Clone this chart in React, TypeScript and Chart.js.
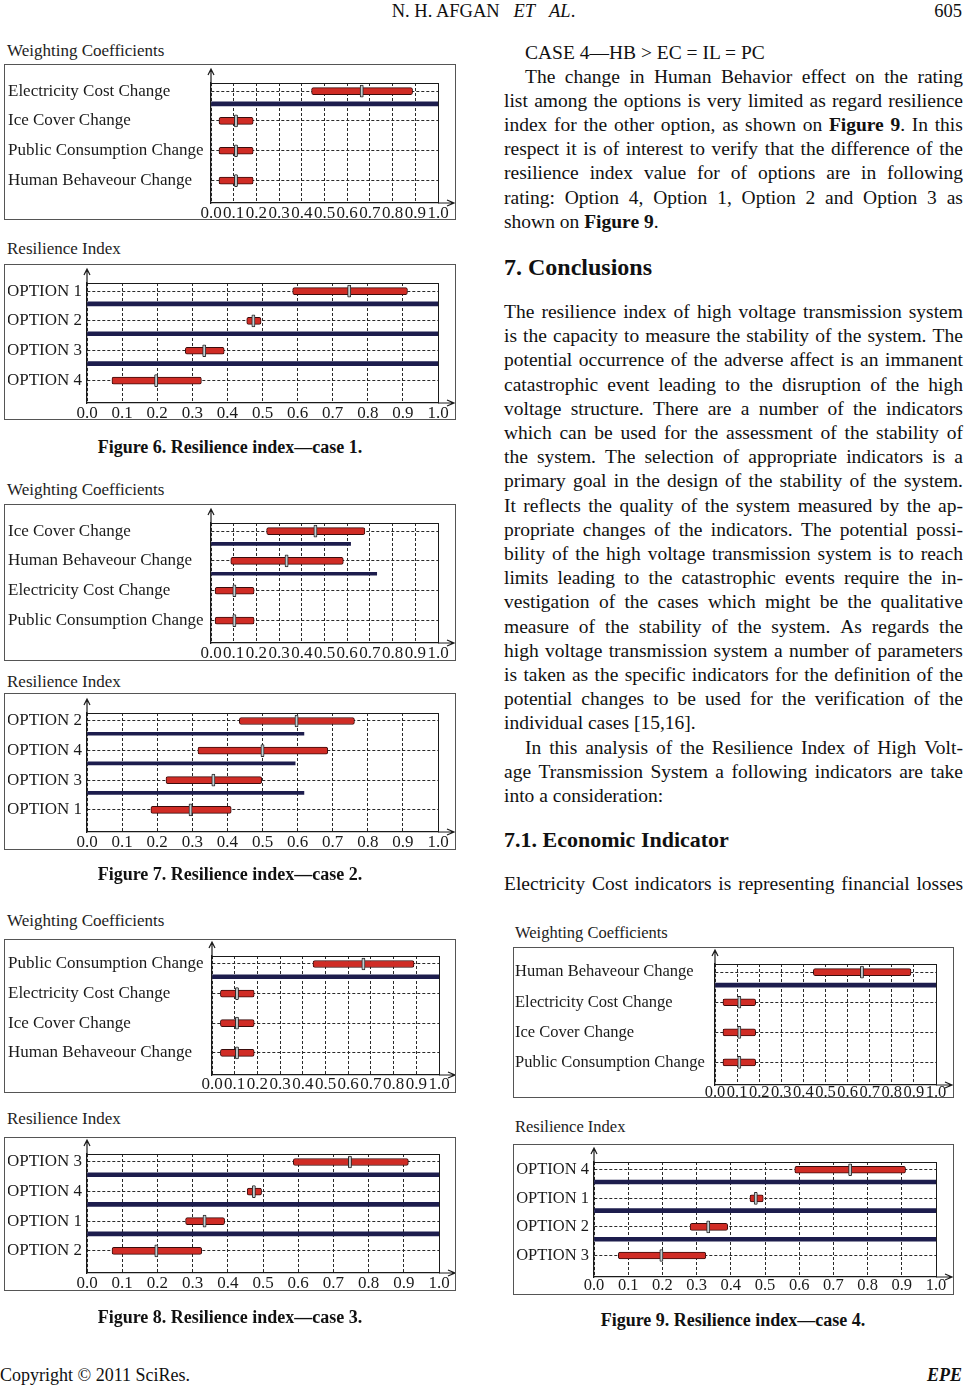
import React, { useEffect, useRef } from 'react';
import { Chart, registerables } from 'chart.js';

Chart.register(...registerables);

const FONT = '"Liberation Serif", "Times New Roman", Times, serif';

// ---------- shared axis ticks ----------
const X_TICK_VALUES = [0, 0.1, 0.2, 0.3, 0.4, 0.5, 0.6, 0.7, 0.8, 0.9, 1];
const X_TICK_LABELS = ['0.0', '0.1', '0.2', '0.3', '0.4', '0.5', '0.6', '0.7', '0.8', '0.9', '1.0'];

// ---------- Figure 6 (case 1) ----------
const F6W_CATS = ['Electricity Cost Change', 'Ice Cover Change', 'Public Consumption Change', 'Human Behaveour Change'];
const F6W_LOW = [0.443, 0.035, 0.035, 0.035];
const F6W_HIGH = [0.888, 0.186, 0.186, 0.186];
const F6W_MARK = [0.664, 0.11, 0.11, 0.11];
const F6W_SEP = [1.0, null, null];

const F6R_CATS = ['OPTION 1', 'OPTION 2', 'OPTION 3', 'OPTION 4'];
const F6R_LOW = [0.586, 0.455, 0.28, 0.071];
const F6R_HIGH = [0.913, 0.496, 0.391, 0.326];
const F6R_MARK = [0.747, 0.474, 0.334, 0.197];
const F6R_SEP = [1.0, 1.0, 1.0];

// ---------- Figure 7 (case 2) ----------
const F7W_CATS = ['Ice Cover Change', 'Human Behaveour Change', 'Electricity Cost Change', 'Public Consumption Change'];
const F7W_LOW = [0.245, 0.087, 0.018, 0.018];
const F7W_HIGH = [0.678, 0.583, 0.19, 0.19];
const F7W_MARK = [0.46, 0.333, 0.103, 0.103];
const F7W_SEP = [0.615, 0.73, null];

const F7R_CATS = ['OPTION 2', 'OPTION 4', 'OPTION 3', 'OPTION 1'];
const F7R_LOW = [0.434, 0.316, 0.225, 0.182];
const F7R_HIGH = [0.762, 0.686, 0.498, 0.411];
const F7R_MARK = [0.597, 0.5, 0.36, 0.295];
const F7R_SEP = [0.618, 0.593, 0.618];

// ---------- Figure 8 (case 3) ----------
const F8W_CATS = ['Public Consumption Change', 'Electricity Cost Change', 'Ice Cover Change', 'Human Behaveour Change'];
const F8W_LOW = [0.445, 0.037, 0.037, 0.037];
const F8W_HIGH = [0.89, 0.186, 0.186, 0.186];
const F8W_MARK = [0.667, 0.11, 0.11, 0.11];
const F8W_SEP = [1.0, null, null];

const F8R_CATS = ['OPTION 3', 'OPTION 4', 'OPTION 1', 'OPTION 2'];
const F8R_LOW = [0.586, 0.455, 0.28, 0.071];
const F8R_HIGH = [0.913, 0.496, 0.391, 0.326];
const F8R_MARK = [0.747, 0.474, 0.334, 0.197];
const F8R_SEP = [1.0, 1.0, 1.0];

// ---------- Figure 9 (case 4) ----------
const F9W_CATS = ['Human Behaveour Change', 'Electricity Cost Change', 'Ice Cover Change', 'Public Consumption Change'];
const F9W_LOW = [0.445, 0.036, 0.036, 0.036];
const F9W_HIGH = [0.887, 0.184, 0.184, 0.184];
const F9W_MARK = [0.665, 0.11, 0.11, 0.11];
const F9W_SEP = [1.0, null, null];

const F9R_CATS = ['OPTION 4', 'OPTION 1', 'OPTION 2', 'OPTION 3'];
const F9R_LOW = [0.587, 0.456, 0.281, 0.071];
const F9R_HIGH = [0.911, 0.495, 0.391, 0.327];
const F9R_MARK = [0.749, 0.473, 0.334, 0.197];
const F9R_SEP = [1.0, 1.0, 1.0];

type Panel = {
  title: string;
  titleX: number;
  titleY: number;
  cats: string[];
  low: number[];
  high: number[];
  mark: number[];
  sep: (number | null)[];
  box: { x: number; y: number; w: number; h: number };
  plot: { L: number; R: number; T: number; B: number };
  align: 'near' | 'far';
  labelPad: number;
  sepW: number;
  fs: number;
  tickPad: number;
};

const WC = 'Weighting Coefficients';
const RI = 'Resilience Index';

const PANELS: Panel[] = [
  { title: WC, titleX: 7, titleY: 51, cats: F6W_CATS, low: F6W_LOW, high: F6W_HIGH, mark: F6W_MARK, sep: F6W_SEP,
    box: { x: 4, y: 64, w: 452, h: 156 }, plot: { L: 211, R: 438, T: 83, B: 203 }, align: 'far', labelPad: 4, sepW: 4, fs: 17, tickPad: 0 },
  { title: RI, titleX: 7, titleY: 249, cats: F6R_CATS, low: F6R_LOW, high: F6R_HIGH, mark: F6R_MARK, sep: F6R_SEP,
    box: { x: 4, y: 264, w: 452, h: 156 }, plot: { L: 87, R: 438, T: 283, B: 403 }, align: 'near', labelPad: 4, sepW: 4, fs: 17, tickPad: 0 },
  { title: WC, titleX: 7, titleY: 490, cats: F7W_CATS, low: F7W_LOW, high: F7W_HIGH, mark: F7W_MARK, sep: F7W_SEP,
    box: { x: 4, y: 504, w: 452, h: 157 }, plot: { L: 211, R: 438, T: 523, B: 643 }, align: 'far', labelPad: 4, sepW: 3, fs: 17, tickPad: 0 },
  { title: RI, titleX: 7, titleY: 682, cats: F7R_CATS, low: F7R_LOW, high: F7R_HIGH, mark: F7R_MARK, sep: F7R_SEP,
    box: { x: 4, y: 693, w: 452, h: 157 }, plot: { L: 87, R: 438, T: 713, B: 832 }, align: 'near', labelPad: 4, sepW: 3, fs: 17, tickPad: 0 },
  { title: WC, titleX: 7, titleY: 921, cats: F8W_CATS, low: F8W_LOW, high: F8W_HIGH, mark: F8W_MARK, sep: F8W_SEP,
    box: { x: 4, y: 939, w: 452, h: 154 }, plot: { L: 212, R: 439, T: 956, B: 1075 }, align: 'far', labelPad: 4, sepW: 4, fs: 17, tickPad: -1 },
  { title: RI, titleX: 7, titleY: 1119, cats: F8R_CATS, low: F8R_LOW, high: F8R_HIGH, mark: F8R_MARK, sep: F8R_SEP,
    box: { x: 4, y: 1137, w: 452, h: 154 }, plot: { L: 87, R: 439, T: 1154, B: 1273 }, align: 'near', labelPad: 4, sepW: 4, fs: 17, tickPad: 0 },
  { title: WC, titleX: 515, titleY: 933, cats: F9W_CATS, low: F9W_LOW, high: F9W_HIGH, mark: F9W_MARK, sep: F9W_SEP,
    box: { x: 513, y: 947, w: 441, h: 151 }, plot: { L: 715, R: 936, T: 964, B: 1085 }, align: 'far', labelPad: 2, sepW: 4, fs: 16.5, tickPad: -2 },
  { title: RI, titleX: 515, titleY: 1127, cats: F9R_CATS, low: F9R_LOW, high: F9R_HIGH, mark: F9R_MARK, sep: F9R_SEP,
    box: { x: 513, y: 1144, w: 441, h: 151 }, plot: { L: 594, R: 936, T: 1162, B: 1277 }, align: 'near', labelPad: 2, sepW: 4, fs: 16.5, tickPad: -1 },
];

const EXTRA = 8;

const framePlugin = {
  id: 'frameArrows',
  beforeDatasetsDraw(chart: any) {
    const { ctx, chartArea: a } = chart;
    ctx.save();
    ctx.setLineDash([]);
    ctx.strokeStyle = '#1a1a1a';
    ctx.lineWidth = 1;
    ctx.beginPath();
    ctx.moveTo(a.left, a.top + 0.5);
    ctx.lineTo(a.right + 0.5, a.top + 0.5);
    ctx.lineTo(a.right + 0.5, a.bottom);
    ctx.stroke();
    // y axis arrow
    ctx.lineWidth = 1.2;
    ctx.beginPath();
    ctx.moveTo(a.left, a.top);
    ctx.lineTo(a.left, a.top - 13);
    ctx.moveTo(a.left - 3, a.top - 8);
    ctx.lineTo(a.left, a.top - 14);
    ctx.lineTo(a.left + 3, a.top - 8);
    ctx.stroke();
    // x axis arrow
    ctx.beginPath();
    ctx.moveTo(a.right, a.bottom);
    ctx.lineTo(a.right + 15, a.bottom);
    ctx.moveTo(a.right + 9, a.bottom - 3);
    ctx.lineTo(a.right + 16, a.bottom);
    ctx.lineTo(a.right + 9, a.bottom + 3);
    ctx.stroke();
    ctx.restore();
  },
};

function ChartPanel({ p }: { p: Panel }) {
  const ref = useRef<HTMLCanvasElement | null>(null);
  useEffect(() => {
    if (!ref.current) return;
    const n = p.cats.length;
    const plotW = p.plot.R - p.plot.L;
    const half = 1.6 / plotW;
    const row = (i: number) => n - i;
    const font = { family: FONT, size: p.fs };
    const chart = new Chart(ref.current, {
      type: 'bar',
      data: {
        datasets: [
          {
            label: 'mark',
            data: p.mark.map((m, i) => ({ y: row(i), x: [m - half, m + half] })),
            backgroundColor: '#c3cdd0',
            borderColor: '#2a2a2a',
            borderWidth: 1,
            borderSkipped: false,
            borderRadius: 1,
            barThickness: 12,
            grouped: false,
            order: 0,
          },
          {
            label: 'range',
            data: p.low.map((lo, i) => ({ y: row(i), x: [lo, p.high[i]] })),
            backgroundColor: '#d02c25',
            borderColor: '#3a0c0c',
            borderWidth: 1,
            borderSkipped: false,
            borderRadius: 2,
            barThickness: 7,
            grouped: false,
            order: 1,
          },
          {
            label: 'sep',
            data: p.sep
              .map((e, i) => (e == null ? null : { y: row(i) - 0.43, x: [0, e] }))
              .filter((d) => d !== null),
            backgroundColor: '#1d1d4d',
            borderWidth: 0,
            barThickness: p.sepW,
            grouped: false,
            order: 2,
          },
        ],
      } as any,
      options: {
        animation: false,
        responsive: true,
        maintainAspectRatio: false,
        indexAxis: 'y',
        events: [],
        layout: {
          padding: {
            left: p.labelPad,
            top: p.plot.T - p.box.y,
            right: p.box.x + p.box.w - p.plot.R,
            bottom: 0,
          },
        },
        plugins: { legend: { display: false }, tooltip: { enabled: false }, title: { display: false } },
        scales: {
          x: {
            type: 'linear',
            position: 'bottom',
            min: 0,
            max: 1,
            afterBuildTicks: (ax: any) => {
              ax.ticks = X_TICK_VALUES.map((v) => ({ value: v }));
            },
            afterFit: (ax: any) => {
              ax.height = p.box.y + p.box.h + EXTRA - p.plot.B;
              ax.paddingLeft = 0;
              ax.paddingRight = 0;
            },
            ticks: {
              autoSkip: false,
              maxRotation: 0,
              minRotation: 0,
              padding: p.tickPad,
              color: '#1a1a1a',
              font,
              callback: (_v: any, i: number) => X_TICK_LABELS[i],
            },
            grid: { color: '#2a2a2a', lineWidth: 1, drawTicks: false, offset: false },
            border: { display: true, color: '#1a1a1a', width: 1.3, dash: [3, 2] },
          },
          y: {
            type: 'linear',
            position: 'left',
            min: 0.25,
            max: n + 0.27,
            offset: false,
            afterBuildTicks: (ax: any) => {
              ax.ticks = p.cats.map((_c, i) => ({ value: row(i) }));
            },
            afterFit: (ax: any) => {
              ax.width = p.plot.L - p.box.x - p.labelPad;
              ax.paddingTop = 0;
              ax.paddingBottom = 0;
            },
            ticks: {
              autoSkip: false,
              padding: 5,
              crossAlign: p.align,
              color: '#1a1a1a',
              font,
              callback: (v: any) => p.cats[n - Number(v)],
            },
            grid: { color: '#2a2a2a', lineWidth: 1, drawTicks: false, offset: false },
            border: { display: true, color: '#1a1a1a', width: 1.3, dash: [3, 2] },
          },
        },
      } as any,
      plugins: [framePlugin],
    });
    return () => chart.destroy();
  }, [p]);

  return (
    <>
      <div
        style={{
          position: 'absolute',
          left: p.titleX,
          top: p.titleY - 10,
          height: 20,
          lineHeight: '20px',
          fontFamily: FONT,
          fontSize: p.fs,
          color: '#222',
          whiteSpace: 'nowrap',
        }}
      >
        {p.title}
      </div>
      <div style={{ position: 'absolute', left: p.box.x, top: p.box.y, width: p.box.w, height: p.box.h + EXTRA }}>
        <canvas ref={ref} />
      </div>
      <div
        style={{
          position: 'absolute',
          left: p.box.x,
          top: p.box.y,
          width: p.box.w,
          height: p.box.h,
          border: '1.5px solid #555',
          boxSizing: 'border-box',
          pointerEvents: 'none',
        }}
      />
    </>
  );
}

// ---------- page text ----------
const BODY = 19.5;
const LH = 24.2;
const COL_X = 504;
const COL_W = 459;

function rich(s: string, keyBase: string) {
  const parts = s.split(/(\*\*[^*]+\*\*)/).filter((x) => x.length > 0);
  return parts.map((part, i) =>
    part.startsWith('**') ? (
      <b key={keyBase + i}>{part.slice(2, -2)}</b>
    ) : (
      <span key={keyBase + i}>{part}</span>
    )
  );
}

type TL = { y: number; t: string; indent?: number; justify?: boolean };

const BLOCK_A: TL[] = [
  { y: 53, t: 'CASE 4—HB > EC = IL = PC', indent: 21, justify: false },
  { y: 77, t: 'The change in Human Behavior effect on the rating', indent: 21 },
  { y: 101, t: 'list among the options is very limited as regard resilience' },
  { y: 125, t: 'index for the other option, as shown on **Figure** **9**. In this' },
  { y: 149, t: 'respect it is of interest to verify that the difference of the' },
  { y: 173, t: 'resilience index value for of options are in following' },
  { y: 198, t: 'rating: Option 4, Option 1, Option 2 and Option 3 as' },
  { y: 222, t: 'shown on **Figure 9**.', justify: false },
];

const BLOCK_B_TEXT = [
  'The resilience index of high voltage transmission system',
  'is the capacity to measure the stability of the system. The',
  'potential occurrence of the adverse affect is an immanent',
  'catastrophic event leading to the disruption of the high',
  'voltage structure. There are a number of the indicators',
  'which can be used for the assessment of the stability of',
  'the system. The selection of appropriate indicators is a',
  'primary goal in the design of the stability of the system.',
  'It reflects the quality of the system measured by the ap-',
  'propriate changes of the indicators. The potential possi-',
  'bility of the high voltage transmission system is to reach',
  'limits leading to the catastrophic events require the in-',
  'vestigation of the cases which might be the qualitative',
  'measure of the stability of the system. As regards the',
  'high voltage transmission system a number of parameters',
  'is taken as the specific indicators for the definition of the',
  'potential changes to be used for the verification of the',
  'individual cases [15,16].',
  'In this analysis of the Resilience Index of High Volt-',
  'age Transmission System a following indicators are take',
  'into a consideration:',
];

const BLOCK_B: TL[] = BLOCK_B_TEXT.map((t, k) => ({
  y: 312 + k * LH,
  t,
  indent: k === 18 ? 21 : 0,
  justify: !(k === 17 || k === 20),
}));

function TextLine({ l }: { l: TL }) {
  const indent = l.indent || 0;
  const justify = l.justify !== false;
  const base: React.CSSProperties = {
    position: 'absolute',
    left: COL_X + indent,
    top: l.y - LH / 2,
    width: COL_W - indent,
    height: LH,
    lineHeight: LH + 'px',
    fontFamily: FONT,
    fontSize: BODY,
    color: '#111',
    whiteSpace: 'pre',
  };
  if (!justify) return <div style={base}>{rich(l.t, 'a')}</div>;
  const words = l.t.split(' ');
  return (
    <div style={{ ...base, display: 'flex', justifyContent: 'space-between' }}>
      {words.map((w, i) => (
        <span key={i}>{rich(w, 'w' + i)}</span>
      ))}
    </div>
  );
}

function Caption({ cx, y, text }: { cx: number; y: number; text: string }) {
  return (
    <div
      style={{
        position: 'absolute',
        left: cx - 240,
        width: 480,
        top: y - 11,
        height: 22,
        lineHeight: '22px',
        textAlign: 'center',
        fontFamily: FONT,
        fontWeight: 'bold',
        fontSize: 18,
        color: '#111',
        whiteSpace: 'nowrap',
      }}
    >
      {text}
    </div>
  );
}

export default function App() {
  return (
    <div
      style={{
        position: 'absolute',
        left: 0,
        top: 0,
        width: 967,
        height: 1386,
        overflow: 'hidden',
        background: '#fff',
        fontFamily: FONT,
      }}
    >
      {/* header */}
      <div
        style={{
          position: 'absolute',
          left: 0,
          top: 1,
          width: 967,
          textAlign: 'center',
          fontSize: 18.5,
          lineHeight: '20px',
          color: '#111',
          whiteSpace: 'pre',
        }}
      >
        {'N. H. AFGAN   '}
        <i>ET</i>
        {'   '}
        <i>AL</i>.
      </div>
      <div style={{ position: 'absolute', right: 5, top: 1, fontSize: 18.5, lineHeight: '20px', color: '#111' }}>605</div>

      {PANELS.map((p, i) => (
        <ChartPanel key={i} p={p} />
      ))}

      <Caption cx={230} y={447} text="Figure 6. Resilience index—case 1." />
      <Caption cx={230} y={874} text="Figure 7. Resilience index—case 2." />
      <Caption cx={230} y={1317} text="Figure 8. Resilience index—case 3." />
      <Caption cx={733} y={1320} text="Figure 9. Resilience index—case 4." />

      {BLOCK_A.map((l, i) => (
        <TextLine key={'a' + i} l={l} />
      ))}
      <div
        style={{
          position: 'absolute',
          left: COL_X,
          top: 267 - 15,
          height: 30,
          lineHeight: '30px',
          fontSize: 24,
          fontWeight: 'bold',
          color: '#111',
          whiteSpace: 'nowrap',
        }}
      >
        7. Conclusions
      </div>
      {BLOCK_B.map((l, i) => (
        <TextLine key={'b' + i} l={l} />
      ))}
      <div
        style={{
          position: 'absolute',
          left: COL_X,
          top: 840 - 14,
          height: 28,
          lineHeight: '28px',
          fontSize: 22,
          fontWeight: 'bold',
          color: '#111',
          whiteSpace: 'nowrap',
        }}
      >
        7.1. Economic Indicator
      </div>
      <TextLine l={{ y: 884, t: 'Electricity Cost indicators is representing financial losses' }} />

      {/* footer */}
      <div style={{ position: 'absolute', left: 0, top: 1365, fontSize: 18, lineHeight: '20px', color: '#111', whiteSpace: 'nowrap' }}>
        Copyright © 2011 SciRes.
      </div>
      <div
        style={{
          position: 'absolute',
          right: 5,
          top: 1365,
          fontSize: 18,
          lineHeight: '20px',
          color: '#111',
          fontWeight: 'bold',
          fontStyle: 'italic',
        }}
      >
        EPE
      </div>
    </div>
  );
}
